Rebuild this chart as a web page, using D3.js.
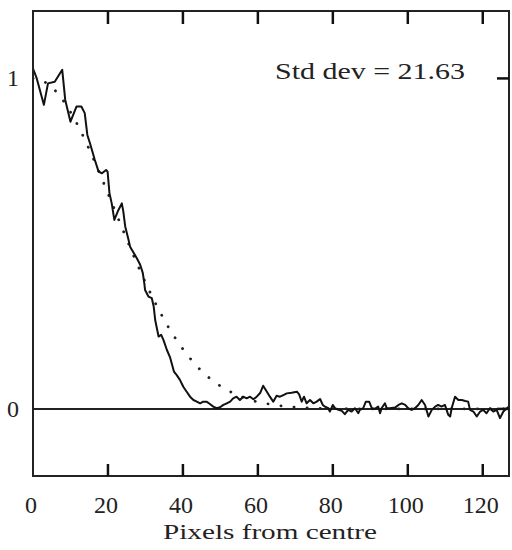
<!DOCTYPE html>
<html><head><meta charset="utf-8">
<script src="https://cdn.jsdelivr.net/npm/d3@7/dist/d3.min.js"></script>
<style>html,body{margin:0;padding:0;background:#fff}</style>
</head><body>
<svg id="c" width="512" height="550"></svg>
<script>
// ---- data ----
const xTicks = [0, 20, 40, 60, 80, 100, 120];
const xTickLabels = ["0", "20", "40", "60", "80", "100", "120"];
const yTicks = [0, 1];
const yTickLabels = ["0", "1"];
const annotation = "Std dev = 21.63";
const xTitle = "Pixels from centre";

// measured profile (solid)
const profileX = [0,1.0,2.9,4.0,5.8,7.8,8.6,10.0,11.6,12.9,13.8,14.5,15.2,16.5,17.5,18.4,19.5,19.9,20.4,21.0,21.7,22.8,23.7,24.1,24.6,25.5,25.9,27.7,28.6,29.3,29.7,29.9,30.8,31.7,32.2,32.6,33.5,34.2,34.8,35.7,36.6,37.0,37.6,38.3,39.2,40.1,41.0,41.9,42.8,43.7,44.6,45.4,46.3,47.2,48.1,49.0,49.9,50.8,51.7,52.6,53.4,54.3,55.2,56.1,57.0,57.9,58.8,59.7,60.6,61.4,62.4,63.2,64.1,65.0,65.9,66.8,67.7,69.0,70.4,71.0,71.7,72.3,73.0,73.9,74.8,75.7,76.6,77.3,77.9,78.8,79.2,80.0,80.6,81.5,82.4,83.2,84.1,85.0,85.9,86.8,87.2,88.1,88.8,89.7,90.4,91.2,92.1,92.6,93.0,93.9,94.4,95.2,96.6,97.5,98.4,99.3,100.1,101.0,101.9,102.8,103.7,104.6,105.5,106.4,107.3,108.1,109.0,109.9,110.8,111.3,111.7,112.6,113.5,114.4,115.3,116.1,116.6,117.5,118.4,119.3,120.1,121.0,121.9,122.8,123.7,124.6,125.5,126.4,127.0];
const profileY = [1.03,1.00,0.92,0.985,0.99,1.026,0.935,0.869,0.915,0.915,0.895,0.829,0.804,0.753,0.718,0.713,0.723,0.718,0.653,0.622,0.572,0.602,0.622,0.597,0.552,0.511,0.491,0.456,0.436,0.411,0.380,0.360,0.340,0.335,0.310,0.269,0.219,0.224,0.209,0.179,0.155,0.138,0.113,0.103,0.088,0.067,0.052,0.037,0.027,0.022,0.017,0.022,0.022,0.015,0.007,0.002,0.005,0.012,0.017,0.022,0.032,0.037,0.027,0.037,0.032,0.037,0.029,0.037,0.048,0.070,0.052,0.037,0.022,0.040,0.037,0.042,0.047,0.049,0.052,0.044,0.022,0.037,0.017,0.027,0.017,0.022,0.030,0.012,0.007,0.002,-0.008,0.012,0.002,-0.003,-0.006,-0.016,-0.003,-0.008,0.002,-0.013,-0.003,0.002,0.022,0.022,0.002,0.0,0.007,-0.013,0.002,0.017,0.002,0.002,0.004,0.012,0.017,0.012,0.002,-0.003,0.002,0.012,0.027,0.012,-0.023,-0.003,0.007,0.012,0.007,0.012,-0.018,-0.023,0.002,0.037,0.027,0.027,0.024,0.022,-0.003,-0.008,-0.023,-0.008,-0.003,-0.013,0.002,-0.008,-0.003,-0.028,-0.008,0.002,0.007];

// fitted curve (dotted)
const fitX = [0,4,8,12,16,20,24,28,32,36,40,44,48,52,56,60,64,68,72,80,90,100,110,120,127];
const fitY = [1.0,0.983,0.934,0.857,0.760,0.652,0.541,0.433,0.335,0.250,0.181,0.126,0.085,0.056,0.035,0.021,0.013,0.007,0.004,0.001,0,0,0,0,0];

// ---- drawing ----
const svg = d3.select("#c");
const L = 33, R = 509, T = 11, B = 476;
const xs = d3.scaleLinear().domain([0, 127]).range([L, R]);
const ys = d3.scaleLinear().domain([-0.203, 1.204]).range([B, T]);
const ink = "#222";
const font = "Liberation Serif, Times New Roman, Times, serif";

svg.append("rect").attr("width", 512).attr("height", 550).attr("fill", "#fff");

svg.append("clipPath").attr("id", "clip").append("rect")
  .attr("x", L).attr("y", T).attr("width", R - L).attr("height", B - T);

// zero line
svg.append("line").attr("x1", L).attr("x2", R).attr("y1", ys(0)).attr("y2", ys(0))
  .attr("stroke", ink).attr("stroke-width", 2);

// dotted fit
svg.append("path")
  .datum(d3.zip(fitX, fitY))
  .attr("clip-path", "url(#clip)")
  .attr("d", d3.line().x(d => xs(d[0])).y(d => ys(d[1])).curve(d3.curveMonotoneX))
  .attr("fill", "none").attr("stroke", ink).attr("stroke-width", 2.8)
  .attr("stroke-linecap", "round").attr("stroke-dasharray", "0.1 13");

// solid profile
svg.append("path")
  .datum(d3.zip(profileX, profileY))
  .attr("clip-path", "url(#clip)")
  .attr("d", d3.line().x(d => xs(d[0])).y(d => ys(d[1])))
  .attr("fill", "none").attr("stroke", "#111").attr("stroke-width", 2)
  .attr("stroke-linejoin", "round");

// frame
svg.append("rect").attr("x", L).attr("y", T).attr("width", R - L).attr("height", B - T)
  .attr("fill", "none").attr("stroke", ink).attr("stroke-width", 2);

// inward ticks on bottom and top, drawn from the x scale
const tickG = svg.append("g");
tickG.selectAll("line.b").data(xTicks.slice(1)).join("line").attr("class", "b")
  .attr("x1", d => xs(d)).attr("x2", d => xs(d)).attr("y1", B).attr("y2", B - 12)
  .attr("stroke", "#111").attr("stroke-width", 2.5);
tickG.selectAll("line.t").data(xTicks.slice(1)).join("line").attr("class", "t")
  .attr("x1", d => xs(d)).attr("x2", d => xs(d)).attr("y1", T).attr("y2", T + 13)
  .attr("stroke", "#111").attr("stroke-width", 2.5);
// right-side inward tick at y = 1 (and 0, under the zero line)
tickG.selectAll("line.r").data(yTicks).join("line").attr("class", "r")
  .attr("x1", R).attr("x2", R - 12).attr("y1", d => ys(d)).attr("y2", d => ys(d))
  .attr("stroke", "#111").attr("stroke-width", 2.5);

// tick labels
svg.append("g").selectAll("text").data(xTicks).join("text")
  .attr("x", d => xs(d) - 2).attr("y", 513)
  .attr("text-anchor", "middle").attr("font-family", font).attr("font-size", 24)
  .attr("fill", ink).text((d, i) => xTickLabels[i]);

svg.append("g").selectAll("text").data(yTicks).join("text")
  .attr("x", 13).attr("y", d => ys(d) + 8)
  .attr("text-anchor", "middle").attr("font-family", font).attr("font-size", 24)
  .attr("fill", ink).text((d, i) => yTickLabels[i]);

// annotation
svg.append("text").attr("x", 275).attr("y", 79)
  .attr("font-family", font).attr("font-size", 23).attr("fill", ink)
  .attr("textLength", 190).attr("lengthAdjust", "spacingAndGlyphs")
  .text(annotation);

// x title
svg.append("text").attr("x", 163).attr("y", 539)
  .attr("font-family", font).attr("font-size", 22).attr("fill", ink)
  .attr("textLength", 214).attr("lengthAdjust", "spacingAndGlyphs")
  .text(xTitle);
</script>
</body></html>
